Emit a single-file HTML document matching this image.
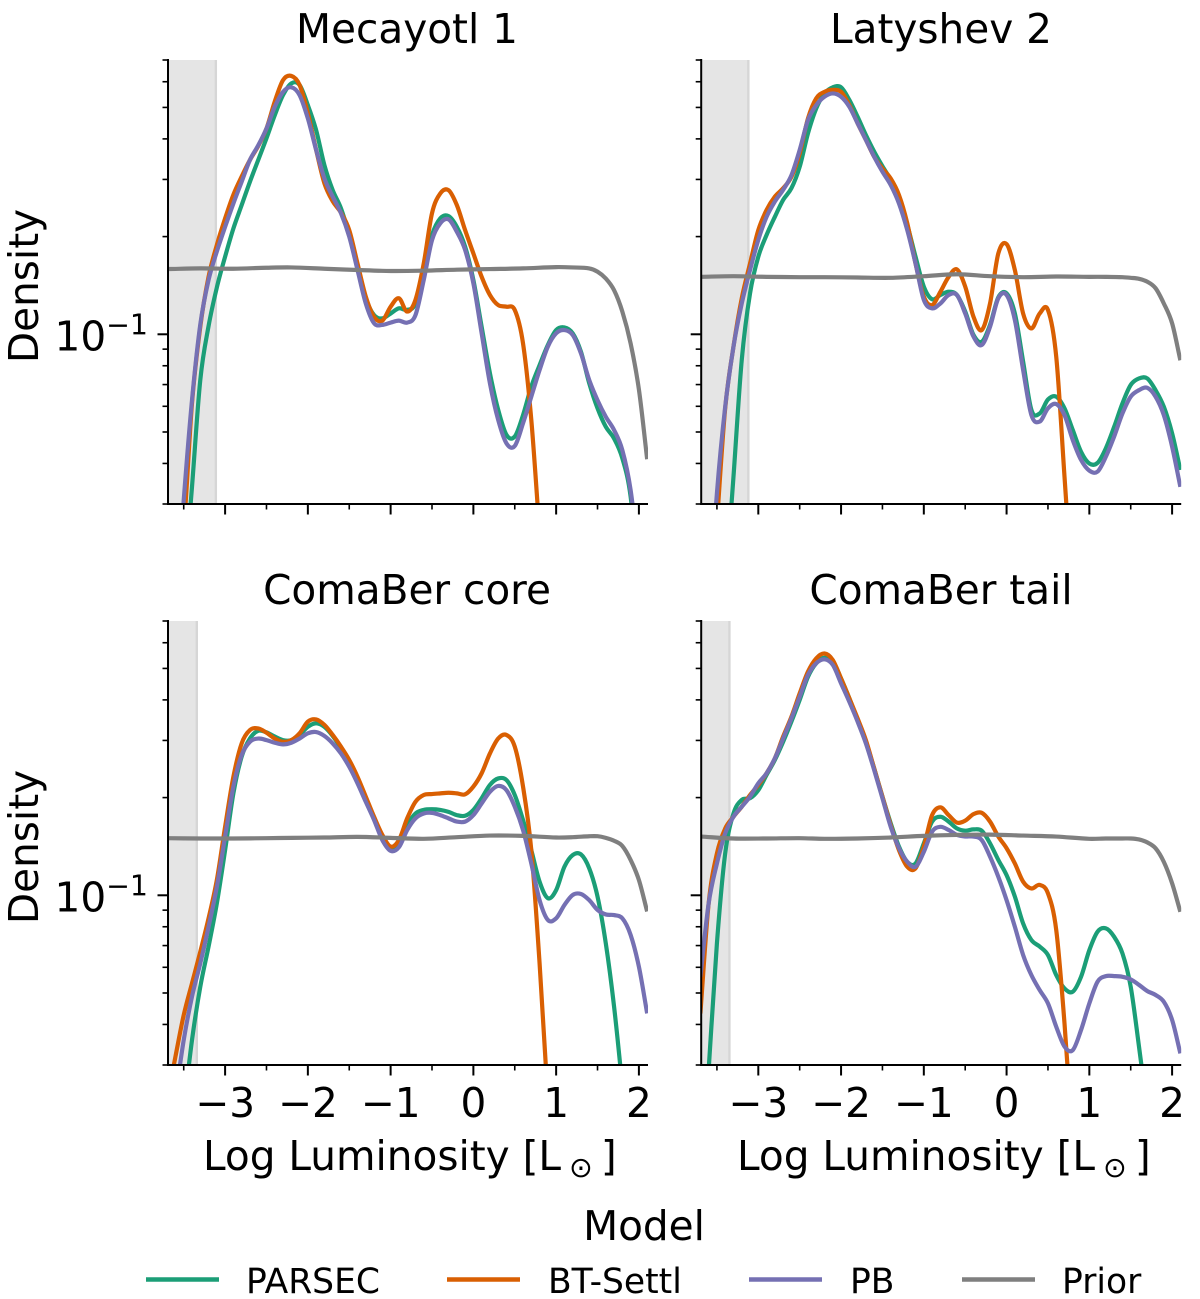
<!DOCTYPE html>
<html lang="en">
<head>
<meta charset="utf-8">
<title>Log luminosity density by cluster</title>
<style>
html,body{margin:0;padding:0;background:#fff;}
svg{display:block;}
text{font-family:"DejaVu Sans","Liberation Sans",sans-serif;fill:#000;}
.big{font-size:40.6px;}
.leg{font-size:34.5px;}
</style>
</head>
<body>
<svg id="figure" xmlns="http://www.w3.org/2000/svg" width="1200" height="1299" viewBox="0 0 1200 1299">
  <rect width="1200" height="1299" fill="#fff"/>
  <defs id="clips"></defs>
  <g id="plots"></g>

  <text class="big" x="407" y="43" text-anchor="middle">Mecayotl 1</text>
  <text class="big" x="941" y="43" text-anchor="middle">Latyshev 2</text>
  <text class="big" x="407" y="604" text-anchor="middle">ComaBer core</text>
  <text class="big" x="941" y="604" text-anchor="middle">ComaBer tail</text>

  <text class="big" transform="translate(38,286) rotate(-90)" text-anchor="middle">Density</text>
  <text class="big" transform="translate(38,847) rotate(-90)" text-anchor="middle">Density</text>

  <text class="big" x="203" y="1170">Log Luminosity [L<tspan font-size="28.4" dx="8" dy="7">⊙</tspan><tspan dx="8" dy="-7">]</tspan></text>
  <text class="big" x="737" y="1170">Log Luminosity [L<tspan font-size="28.4" dx="8" dy="7">⊙</tspan><tspan dx="8" dy="-7">]</tspan></text>

  <text class="big" x="644" y="1240" text-anchor="middle">Model</text>
  <g>
    <line x1="146" x2="219" y1="1279.5" y2="1279.5" stroke="#1b9e77" stroke-width="4.4"/>
    <text class="leg" x="246" y="1293">PARSEC</text>
  </g>
  <g>
    <line x1="447" x2="520" y1="1279.5" y2="1279.5" stroke="#d95f02" stroke-width="4.4"/>
    <text class="leg" x="548" y="1293">BT-Settl</text>
  </g>
  <g>
    <line x1="749" x2="822" y1="1279.5" y2="1279.5" stroke="#7570b3" stroke-width="4.4"/>
    <text class="leg" x="850" y="1293">PB</text>
  </g>
  <g>
    <line x1="962" x2="1035" y1="1279.5" y2="1279.5" stroke="#7f7f7f" stroke-width="4.4"/>
    <text class="leg" x="1062" y="1293">Prior</text>
  </g>
</svg>

<script>
// Log luminosity grid shared by the model curves. Curve values are log10(density).
// A null means the curve is far below the visible axis range at that luminosity.
const logLGrid = [-3.7,-3.6,-3.5,-3.4,-3.3,-3.2,-3.1,-3.0,-2.9,-2.8,-2.7,-2.6,-2.5,-2.4,-2.3,-2.2,-2.1,-2.0,-1.9,-1.8,-1.7,-1.6,-1.5,-1.4,-1.3,-1.2,-1.1,-1.0,-0.9,-0.8,-0.7,-0.6,-0.5,-0.4,-0.3,-0.2,-0.1,0,0.1,0.2,0.3,0.4,0.5,0.6,0.7,0.8,0.9,1.0,1.1,1.2,1.3,1.4,1.5,1.6,1.7,1.8,1.9,2.0,2.1];
const priorLogLGrid = [-3.7,-3.3,-2.9,-2.5,-2.2,-1.8,-1.4,-1.0,-0.6,-0.2,0.2,0.6,1.0,1.2,1.4,1.5,1.6,1.7,1.8,1.9,2.0,2.1];

const xTickValues = [-3,-2,-1,0,1,2];
const xTickLabels = ['\u22123','\u22122','\u22121','0','1','2'];
const xMinorTickValues = [-3.5,-2.5,-1.5,-0.5,0.5,1.5];
const yMajorDensityTicks = [0.1];
const yMinorDensityTicks = [0.03,0.04,0.05,0.06,0.07,0.08,0.09,0.2,0.3,0.4,0.5,0.6,0.7];
const xLimits = [-3.69,2.11];
const yLimits = [0.03,0.7];

// Upper edge of the shaded low-luminosity band in each panel
const shadedLimits = [-3.112,-3.12,-3.342,-3.349];

const mecayotlParsec = [null,null,-1.788,-1.470,-1.141,-0.975,-0.856,-0.761,-0.674,-0.602,-0.530,-0.463,-0.396,-0.325,-0.263,-0.227,-0.232,-0.294,-0.371,-0.479,-0.556,-0.612,-0.694,-0.792,-0.889,-0.941,-0.951,-0.936,-0.920,-0.925,-0.905,-0.797,-0.694,-0.643,-0.636,-0.669,-0.730,-0.833,-0.977,-1.120,-1.233,-1.310,-1.315,-1.249,-1.161,-1.095,-1.033,-0.987,-0.979,-0.997,-1.054,-1.151,-1.228,-1.285,-1.321,-1.382,-1.500,-1.767];
const mecayotlBtSettl = [null,-1.819,-1.603,-1.213,-0.977,-0.823,-0.725,-0.643,-0.570,-0.514,-0.463,-0.420,-0.366,-0.283,-0.217,-0.204,-0.232,-0.319,-0.432,-0.535,-0.590,-0.625,-0.679,-0.782,-0.884,-0.946,-0.958,-0.915,-0.889,-0.930,-0.894,-0.782,-0.627,-0.566,-0.556,-0.602,-0.679,-0.751,-0.823,-0.879,-0.910,-0.915,-0.925,-1.028,-1.264,-1.613];
const mecayotlPb = [null,-1.870,-1.511,-1.203,-0.970,-0.833,-0.745,-0.669,-0.597,-0.530,-0.463,-0.418,-0.366,-0.299,-0.253,-0.239,-0.263,-0.335,-0.432,-0.520,-0.576,-0.627,-0.699,-0.802,-0.905,-0.966,-0.971,-0.964,-0.958,-0.964,-0.941,-0.833,-0.710,-0.658,-0.646,-0.684,-0.740,-0.843,-0.997,-1.151,-1.264,-1.336,-1.344,-1.274,-1.192,-1.110,-1.038,-0.997,-0.987,-1.002,-1.059,-1.141,-1.203,-1.254,-1.295,-1.357,-1.480,-1.696];
const mecayotlPrior = [-0.799,-0.797,-0.798,-0.795,-0.794,-0.798,-0.802,-0.805,-0.804,-0.801,-0.799,-0.797,-0.793,-0.794,-0.797,-0.807,-0.828,-0.864,-0.930,-1.028,-1.170,-1.385];

const latyshevParsec = [null,null,null,-1.788,-1.439,-1.079,-0.874,-0.761,-0.694,-0.638,-0.586,-0.550,-0.484,-0.381,-0.304,-0.258,-0.239,-0.239,-0.278,-0.330,-0.386,-0.437,-0.482,-0.525,-0.586,-0.663,-0.761,-0.853,-0.892,-0.879,-0.869,-0.879,-0.930,-1.002,-1.023,-0.971,-0.886,-0.874,-0.936,-1.084,-1.233,-1.244,-1.201,-1.192,-1.228,-1.295,-1.362,-1.398,-1.396,-1.351,-1.285,-1.213,-1.156,-1.136,-1.136,-1.172,-1.223,-1.305,-1.418];
const latyshevBtSettl = [null,-1.973,-1.583,-1.228,-1.038,-0.889,-0.782,-0.679,-0.617,-0.576,-0.550,-0.515,-0.443,-0.335,-0.273,-0.253,-0.247,-0.253,-0.294,-0.350,-0.401,-0.453,-0.489,-0.520,-0.571,-0.658,-0.782,-0.884,-0.910,-0.869,-0.823,-0.800,-0.853,-0.946,-0.987,-0.905,-0.751,-0.722,-0.802,-0.936,-0.982,-0.936,-0.925,-1.069,-1.439,-1.819];
const latyshevPb = [null,-1.870,-1.490,-1.223,-1.038,-0.905,-0.802,-0.709,-0.638,-0.591,-0.555,-0.510,-0.432,-0.340,-0.294,-0.268,-0.258,-0.268,-0.299,-0.350,-0.401,-0.453,-0.499,-0.540,-0.597,-0.679,-0.782,-0.894,-0.920,-0.905,-0.879,-0.879,-0.936,-1.007,-1.033,-0.977,-0.889,-0.879,-0.956,-1.110,-1.249,-1.269,-1.228,-1.215,-1.249,-1.326,-1.387,-1.420,-1.423,-1.377,-1.315,-1.244,-1.192,-1.172,-1.165,-1.192,-1.249,-1.346,-1.470];
const latyshevPrior = [-0.823,-0.821,-0.823,-0.824,-0.824,-0.825,-0.826,-0.821,-0.815,-0.821,-0.824,-0.822,-0.823,-0.823,-0.824,-0.826,-0.829,-0.838,-0.858,-0.905,-0.966,-1.080];

const coreParsec = [null,null,-1.660,-1.446,-1.282,-1.158,-1.025,-0.861,-0.686,-0.573,-0.517,-0.493,-0.498,-0.511,-0.522,-0.522,-0.506,-0.481,-0.470,-0.481,-0.509,-0.547,-0.594,-0.645,-0.701,-0.763,-0.819,-0.852,-0.840,-0.784,-0.748,-0.737,-0.735,-0.737,-0.743,-0.753,-0.755,-0.737,-0.701,-0.660,-0.640,-0.645,-0.691,-0.768,-0.861,-0.958,-1.009,-0.984,-0.912,-0.876,-0.874,-0.917,-1.004,-1.148,-1.343,-1.590,-1.867];
const coreBtSettl = [-1.631,-1.497,-1.369,-1.271,-1.174,-1.071,-0.953,-0.789,-0.635,-0.532,-0.491,-0.486,-0.499,-0.517,-0.527,-0.522,-0.501,-0.465,-0.458,-0.475,-0.506,-0.542,-0.583,-0.635,-0.696,-0.758,-0.814,-0.850,-0.830,-0.763,-0.712,-0.691,-0.688,-0.686,-0.684,-0.686,-0.689,-0.665,-0.624,-0.563,-0.517,-0.506,-0.542,-0.665,-0.861,-1.210,-1.631];
const corePb = [null,-1.621,-1.446,-1.312,-1.210,-1.097,-0.974,-0.819,-0.665,-0.568,-0.527,-0.517,-0.522,-0.530,-0.535,-0.530,-0.517,-0.501,-0.497,-0.509,-0.532,-0.563,-0.604,-0.655,-0.712,-0.768,-0.830,-0.863,-0.852,-0.799,-0.763,-0.748,-0.746,-0.753,-0.763,-0.773,-0.773,-0.753,-0.717,-0.681,-0.663,-0.676,-0.727,-0.799,-0.902,-1.015,-1.076,-1.071,-1.030,-0.999,-0.996,-1.015,-1.045,-1.059,-1.061,-1.071,-1.122,-1.220,-1.364];
const corePrior = [-0.824,-0.825,-0.825,-0.824,-0.823,-0.822,-0.820,-0.823,-0.826,-0.821,-0.816,-0.817,-0.822,-0.821,-0.818,-0.818,-0.823,-0.832,-0.848,-0.891,-0.953,-1.050];

const tailParsec = [null,-1.538,-1.148,-0.871,-0.748,-0.706,-0.701,-0.676,-0.629,-0.583,-0.527,-0.465,-0.398,-0.327,-0.285,-0.268,-0.280,-0.332,-0.393,-0.460,-0.527,-0.609,-0.696,-0.778,-0.850,-0.897,-0.902,-0.840,-0.773,-0.758,-0.773,-0.794,-0.801,-0.797,-0.801,-0.840,-0.891,-0.938,-1.004,-1.087,-1.138,-1.158,-1.184,-1.246,-1.287,-1.297,-1.251,-1.169,-1.112,-1.102,-1.128,-1.179,-1.282,-1.466,-1.662];
const tailBtSettl = [-1.364,-1.025,-0.871,-0.794,-0.758,-0.727,-0.691,-0.660,-0.624,-0.578,-0.511,-0.450,-0.378,-0.311,-0.270,-0.255,-0.275,-0.332,-0.393,-0.455,-0.522,-0.609,-0.696,-0.784,-0.861,-0.912,-0.917,-0.850,-0.753,-0.729,-0.753,-0.776,-0.770,-0.750,-0.746,-0.773,-0.819,-0.855,-0.902,-0.958,-0.979,-0.968,-0.994,-1.107,-1.395,-1.764];
const tailPb = [-1.251,-1.025,-0.902,-0.809,-0.758,-0.727,-0.696,-0.655,-0.624,-0.578,-0.517,-0.455,-0.388,-0.321,-0.285,-0.273,-0.290,-0.347,-0.404,-0.465,-0.532,-0.614,-0.701,-0.789,-0.855,-0.897,-0.912,-0.866,-0.804,-0.789,-0.799,-0.814,-0.819,-0.819,-0.830,-0.881,-0.943,-1.015,-1.097,-1.184,-1.246,-1.292,-1.333,-1.405,-1.466,-1.477,-1.415,-1.333,-1.266,-1.249,-1.249,-1.251,-1.259,-1.276,-1.295,-1.307,-1.328,-1.384,-1.487];
const tailPrior = [-0.819,-0.825,-0.825,-0.824,-0.826,-0.825,-0.822,-0.817,-0.814,-0.813,-0.816,-0.819,-0.826,-0.825,-0.825,-0.825,-0.828,-0.837,-0.855,-0.897,-0.963,-1.051];

const panelKeys = ['mecayotl-1','latyshev-2','comaber-core','comaber-tail'];
const parsecByPanel = [mecayotlParsec,latyshevParsec,coreParsec,tailParsec];
const btSettlByPanel = [mecayotlBtSettl,latyshevBtSettl,coreBtSettl,tailBtSettl];
const pbByPanel = [mecayotlPb,latyshevPb,corePb,tailPb];
const priorByPanel = [mecayotlPrior,latyshevPrior,corePrior,tailPrior];

const NS = 'http://www.w3.org/2000/svg';
const plots = document.getElementById('plots');
const clips = document.getElementById('clips');

function svgEl(tag, parent, attrs){
  const el = document.createElementNS(NS, tag);
  for (const k in attrs) el.setAttribute(k, attrs[k]);
  parent.appendChild(el);
  return el;
}

// Cubic curve through the points, with tangents from neighbouring points.
function curvePath(xs, ys, xScale, yScale){
  const pts = [];
  for (let i = 0; i < ys.length; i++){
    if (ys[i] !== null) pts.push([xScale(xs[i]), yScale(ys[i])]);
  }
  const slope = i => {
    const a = pts[Math.max(i-1,0)], b = pts[Math.min(i+1,pts.length-1)];
    return (b[1]-a[1])/(b[0]-a[0]);
  };
  let d = 'M' + pts[0][0].toFixed(2) + ' ' + pts[0][1].toFixed(2);
  for (let i = 0; i < pts.length-1; i++){
    const p = pts[i], q = pts[i+1], h = (q[0]-p[0])/3;
    const c1y = p[1] + slope(i)*h, c2y = q[1] - slope(i+1)*h;
    d += 'C' + (p[0]+h).toFixed(2) + ' ' + c1y.toFixed(2) + ' ' + (q[0]-h).toFixed(2) + ' ' + c2y.toFixed(2) + ' ' + q[0].toFixed(2) + ' ' + q[1].toFixed(2);
  }
  return d;
}

panelKeys.forEach(function(key, idx){
  const col = idx % 2, row = idx < 2 ? 0 : 1;
  const left = col === 0 ? 168 : 701.2;
  const right = left + 480;
  const top = row === 0 ? 60 : 621;
  const bottom = row === 0 ? 504 : 1065;
  const xScale = v => left + (v - xLimits[0]) / (xLimits[1] - xLimits[0]) * (right - left);
  const yScale = v => bottom - (v - Math.log10(yLimits[0])) / (Math.log10(yLimits[1]) - Math.log10(yLimits[0])) * (bottom - top);

  const g = svgEl('g', plots, {});
  
  

  const clip = svgEl('clipPath', clips, {id: 'clip-' + idx});
  svgEl('rect', clip, {x: left, y: top, width: right - left, height: bottom - top});

  const band = svgEl('rect', g, {
    x: left, y: top,
    width: xScale(shadedLimits[idx]) - left,
    height: bottom - top,
    fill: '#e5e5e5'
  });
  
  
  const bandEdge = svgEl('rect', g, {
    x: xScale(shadedLimits[idx]) - 1.2, y: top,
    width: 2.4,
    height: bottom - top,
    fill: '#d6d6d6'
  });
  
  

  const seriesList = [
    ['parsec', parsecByPanel[idx], '#1b9e77', logLGrid],
    ['bt-settl', btSettlByPanel[idx], '#d95f02', logLGrid],
    ['pb', pbByPanel[idx], '#7570b3', logLGrid],
    ['prior', priorByPanel[idx], '#7f7f7f', priorLogLGrid]
  ];
  seriesList.forEach(function(s){
    const line = svgEl('path', g, {
      d: curvePath(s[3], s[1], xScale, yScale),
      fill: 'none', stroke: s[2], 'stroke-width': 4.2,
      'stroke-linejoin': 'round',
      'clip-path': 'url(#clip-' + idx + ')'
    });
    
    
  });

  const leftSpine = svgEl('line', g, {x1: left, x2: left, y1: top - 1, y2: bottom + 1, stroke: '#000', 'stroke-width': 2});
  
  
  const bottomSpine = svgEl('line', g, {x1: left - 1, x2: right, y1: bottom, y2: bottom, stroke: '#000', 'stroke-width': 2});
  
  

  xTickValues.forEach(function(v, i){
    const t = svgEl('line', g, {x1: xScale(v), x2: xScale(v), y1: bottom, y2: bottom + 10.5, stroke: '#000', 'stroke-width': 2});
    
    
    if (row === 1){
      const lab = svgEl('text', g, {x: xScale(v), y: 1117, 'text-anchor': 'middle', 'class': 'big'});
      
      
      lab.textContent = xTickLabels[i];
    }
  });
  xMinorTickValues.forEach(function(v){
    const t = svgEl('line', g, {x1: xScale(v), x2: xScale(v), y1: bottom, y2: bottom + 5.5, stroke: '#000', 'stroke-width': 1.6});
    
    
  });
  yMajorDensityTicks.forEach(function(v){
    const y = yScale(Math.log10(v));
    const t = svgEl('line', g, {x1: left - 10.5, x2: left, y1: y, y2: y, stroke: '#000', 'stroke-width': 2});
    
    
    if (col === 0){
      const lab = svgEl('text', g, {x: 148, y: y + 16, 'text-anchor': 'end', 'class': 'big'});
      
      
      const base = svgEl('tspan', lab, {});
      base.textContent = '10';
      const sup = svgEl('tspan', lab, {'font-size': 28.4, dy: -16});
      sup.textContent = '\u22121';
    }
  });
  yMinorDensityTicks.forEach(function(v){
    const y = yScale(Math.log10(v));
    const t = svgEl('line', g, {x1: left - 5.5, x2: left, y1: y, y2: y, stroke: '#000', 'stroke-width': 1.6});
    
    
  });
});
</script>
</body>
</html>
